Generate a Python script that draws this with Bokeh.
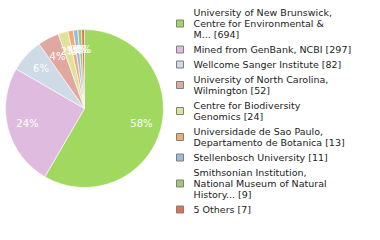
import math
from bokeh.plotting import figure
from bokeh.models import Range1d, ColumnDataSource
from bokeh.core.properties import value
from bokeh.embed import file_html
from bokeh.resources import INLINE

# Specimen counts by depositing institution
labels = [
    ["University of New Brunswick,", "Centre for Environmental &", "M... [694]"],
    ["Mined from GenBank, NCBI [297]"],
    ["Wellcome Sanger Institute [82]"],
    ["University of North Carolina,", "Wilmington [52]"],
    ["Centre for Biodiversity", "Genomics [24]"],
    ["Universidade de Sao Paulo,", "Departamento de Botanica [13]"],
    ["Stellenbosch University [11]"],
    ["Smithsonian Institution,", "National Museum of Natural", "History... [9]"],
    ["5 Others [7]"],
]
counts = [694, 297, 82, 52, 24, 13, 11, 9, 7]
colors = ["#a0d860", "#dfbcdf", "#cedae6", "#e0a8a0", "#e0e29a",
          "#f2aa72", "#9cbae0", "#9ec878", "#e07052"]

W, H = 380, 240
CX, CY, R = 84, 108, 79      # pie centre and radius, in pixels from top-left
LABEL_R = 59

p = figure(width=W, height=H, x_range=Range1d(0, W), y_range=Range1d(0, H),
           output_backend="svg", toolbar_location=None, min_border=0)
p.axis.visible = False
p.grid.visible = False
p.outline_line_color = None
p.background_fill_color = "white"
p.border_fill_color = "white"


def fy(y):
    return H - y


total = sum(counts)
starts, ends, lx, ly, ltxt = [], [], [], [], []
cum = 0
for c in counts:
    a0 = math.pi / 2 - 2 * math.pi * cum / total
    a1 = math.pi / 2 - 2 * math.pi * (cum + c) / total
    starts.append(a0)
    ends.append(a1)
    mid = (a0 + a1) / 2
    lx.append(CX + LABEL_R * math.cos(mid))
    ly.append(fy(CY) + LABEL_R * math.sin(mid))
    ltxt.append(f"{int(100 * c / total)}%")
    cum += c

src = ColumnDataSource(dict(start=starts, end=ends, color=colors))
p.wedge(x=CX, y=fy(CY), radius=R, start_angle="start", end_angle="end",
        direction="clock", fill_color="color", line_color="white",
        line_width=0.6, source=src)

p.text(x=lx, y=ly, text=ltxt, text_color="white", text_align="center",
       text_baseline="middle", text_font=value("DejaVu Sans"),
       text_font_size="10px")

# Legend: coloured square plus wrapped label lines
LINE_H, GAP = 11, 4
y = 12
sx, sy, scol = [], [], []
tx, ty, tt = [], [], []
for lines, col in zip(labels, colors):
    first = y
    for ln in lines:
        tx.append(193)
        ty.append(fy(y))
        tt.append(ln)
        y += LINE_H
    last = y - LINE_H
    sx.append(179.5)
    sy.append(fy((first + last) / 2))
    scol.append(col)
    y += GAP

p.rect(x=sx, y=sy, width=7, height=7, fill_color=scol, line_color="#7f7f7f",
       line_width=1)
p.text(x=tx, y=ty, text=tt, text_color="#222222", text_align="left",
       text_baseline="middle", text_font=value("DejaVu Sans"),
       text_font_size="9.5px")

open("out.html", "w").write(file_html(p, INLINE))
